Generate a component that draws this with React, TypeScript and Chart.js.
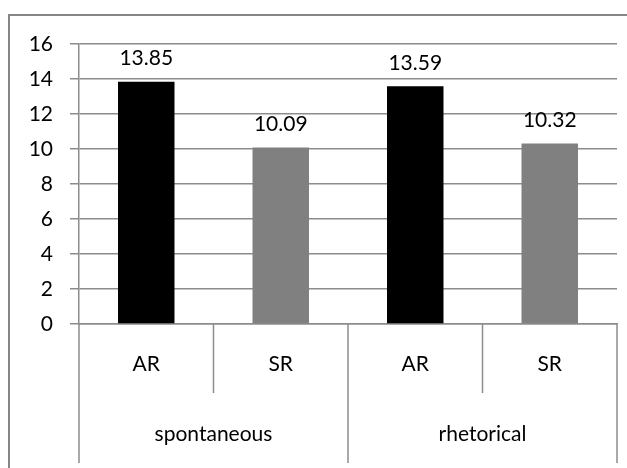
import React, { useEffect, useRef } from "react";
import { Chart, registerables } from "chart.js";

Chart.register(...registerables);

const subLabels = ["AR", "SR", "AR", "SR"];
const groupLabels = ["spontaneous", "rhetorical"];
const values = [13.85, 10.09, 13.59, 10.32];
const barColors = ["#000000", "#808080", "#000000", "#808080"];
const yTicks = [0, 2, 4, 6, 8, 10, 12, 14, 16];

const FONT = "Lato, 'Open Sans', sans-serif";
const LINE = "#8c8c8c";
const FS = 21;

const decorPlugin = {
  id: "decor",
  beforeDraw(chart: any) {
    const ctx = chart.ctx;
    ctx.save();
    ctx.strokeStyle = "#868686";
    ctx.lineWidth = 2;
    ctx.strokeRect(9, 15, 700, 600);
    ctx.restore();
  },
  afterDraw(chart: any) {
    const ctx = chart.ctx;
    const x = chart.scales.x;
    const area = chart.chartArea;
    const bottom = area.bottom;
    const n = subLabels.length;
    const step = x.getPixelForValue(1) - x.getPixelForValue(0);
    ctx.save();
    ctx.strokeStyle = LINE;
    ctx.lineWidth = 1.5;
    for (let i = 0; i <= n; i++) {
      const px = x.getPixelForValue(0) - step / 2 + i * step;
      const isGroup = i % 2 === 0;
      ctx.beginPath();
      ctx.moveTo(px, bottom);
      ctx.lineTo(px, bottom + (isGroup ? 139 : 69));
      ctx.stroke();
    }
    ctx.fillStyle = "#000";
    ctx.font = `${FS}px ${FONT}`;
    ctx.textAlign = "center";
    ctx.textBaseline = "middle";
    for (let i = 0; i < n; i++) {
      ctx.fillText(subLabels[i], x.getPixelForValue(i), bottom + 40);
    }
    for (let g = 0; g < groupLabels.length; g++) {
      const cx = (x.getPixelForValue(g * 2) + x.getPixelForValue(g * 2 + 1)) / 2;
      ctx.fillText(groupLabels[g], cx, bottom + 110);
    }
    const meta = chart.getDatasetMeta(0);
    meta.data.forEach((bar: any, i: number) => {
      ctx.fillText(values[i].toFixed(2), bar.x, bar.y - 23);
    });
    ctx.restore();
  },
};

export default function App() {
  const ref = useRef<HTMLCanvasElement>(null);
  useEffect(() => {
    document.body.style.margin = "0";
    const chart = new Chart(ref.current!, {
      type: "bar",
      data: {
        labels: subLabels,
        datasets: [
          {
            data: values,
            backgroundColor: barColors,
            barPercentage: 0.42,
            categoryPercentage: 1,
          },
        ],
      },
      options: {
        animation: false,
        responsive: false,
        layout: { padding: { top: 44, right: 10, bottom: 136, left: 0 } },
        plugins: { legend: { display: false }, tooltip: { enabled: false } },
        scales: {
          x: {
            ticks: { display: false },
            grid: { display: false },
            border: { display: true, color: LINE, width: 1.5 },
          },
          y: {
            min: 0,
            max: 16,
            afterFit: (s: any) => {
              s.width = 79;
            },
            afterBuildTicks: (s: any) => {
              s.ticks = yTicks.map((v) => ({ value: v }));
            },
            ticks: {
              padding: 17,
              color: "#000",
              font: { family: FONT, size: FS },
            },
            grid: { color: LINE, lineWidth: 1.5, tickLength: 9 },
            border: { display: true, color: LINE, width: 1.5 },
          },
        },
      },
      plugins: [decorPlugin],
    });
    return () => chart.destroy();
  }, []);
  return <canvas ref={ref} width={627} height={468} style={{ display: "block" }} />;
}
